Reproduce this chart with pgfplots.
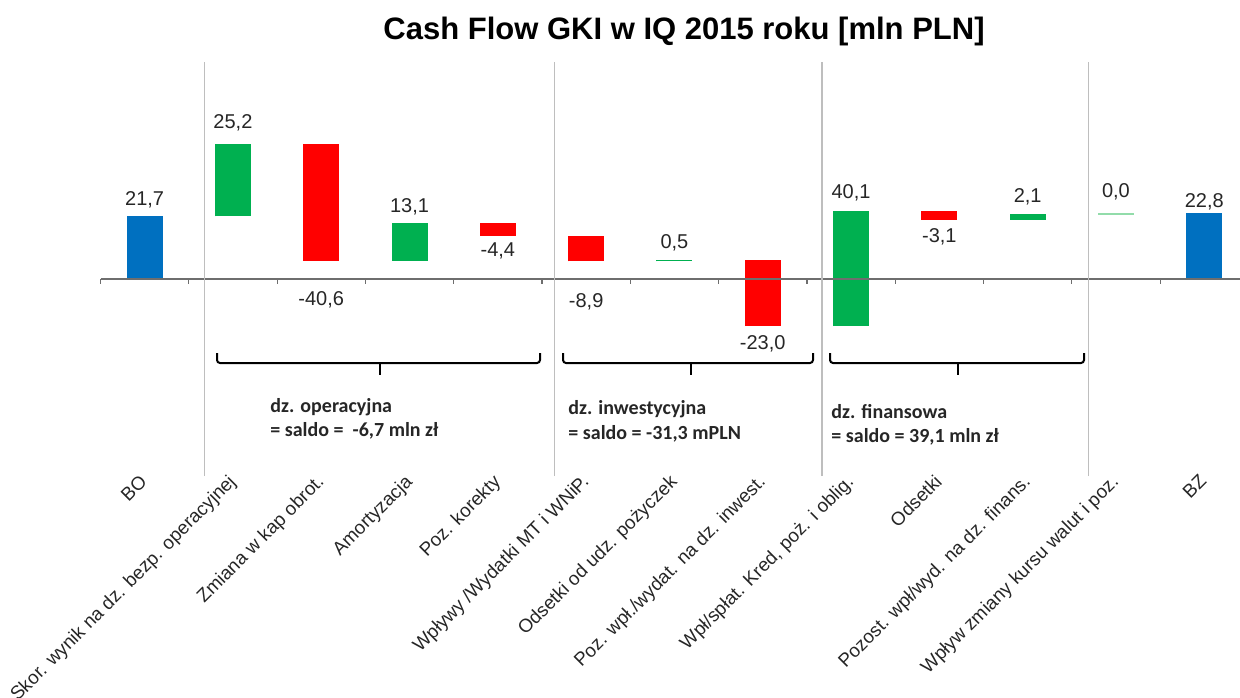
\documentclass[border=0pt]{standalone}
\usepackage{fontspec}
\setmainfont{Liberation Sans}
\newfontfamily\calibri{Carlito}
\usepackage{pgfplots}
\usepackage{pgfplotstable}
\pgfplotsset{compat=1.18}
\definecolor{cblue}{RGB}{0,112,192}
\definecolor{cgreen}{RGB}{0,176,80}
\definecolor{cred}{RGB}{255,0,0}
\definecolor{clight}{RGB}{146,220,170}
\definecolor{csep}{RGB}{190,190,190}
\definecolor{caxis}{RGB}{110,110,110}

\pgfplotstableread{
x lo hi
0 0 21.7
12 0 22.8
}\bluebars
\pgfplotstableread{
x lo hi
1 21.7 46.9
3 6.3 19.4
6 6.1 6.6
8 -16.4 23.7
10 20.6 22.7
}\greenbars
\pgfplotstableread{
x lo hi
2 6.3 46.9
4 15.0 19.4
5 6.1 15.0
7 -16.4 6.6
9 20.6 23.7
}\redbars
\pgfplotstableread{
x y label
0 27.4 21,7
1 54.2 25,2
2 -7.3 -40,6
3 25.0 13,1
4 9.7 -4,4
5 -8.0 -8,9
6 12.5 0,5
7 -22.6 -23,0
8 29.9 40,1
9 14.6 -3,1
10 28.5 2,1
11 30.2 0,0
12 26.7 22,8
}\labels

\begin{document}
\begin{tikzpicture}
\useasboundingbox (0,0) rectangle (620pt,348.5pt);
\begin{axis}[
  at={(50.25pt,110.5pt)}, anchor=south west,
  scale only axis, width=573.95pt, height=207pt,
  xmin=-0.5, xmax=12.5, ymin=-68.4, ymax=75.3,
  axis y line=none,
  axis x line*=middle,
  x axis line style={-, draw=caxis, line width=0.75pt},
  axis on top,
  xtick={0,...,12},
  xticklabels={BO, Skor. wynik na dz. bezp. operacyjnej, Zmiana w kap obrot., Amortyzacja, Poz. korekty, Wpływy /Wydatki MT i WNiP., Odsetki od udz. pożyczek, Poz. wpł./wydat. na dz. inwest., {Wpł/spłat. Kred, poż. i oblig.}, Odsetki, Pozost. wpł/wyd. na dz. finans., Wpływ zmiany kursu walut i poz., BZ},
  major tick length=0pt,
  minor xtick={-0.5,0.5,...,12.5},
  minor tick length=2.5pt,
  xtick align=outside,
  minor tick style={draw=caxis, line width=0.6pt},
  xticklabel style={yshift=-97pt, xshift=-3pt, rotate=45, anchor=north east, inner sep=0pt, font=\fontsize{9.4}{11}\selectfont, text=black!85},
  extra x ticks={0.68,4.64,7.67,10.69},
  extra x tick labels={},
  extra x tick style={grid=major, major grid style={draw=csep, line width=0.75pt}, major tick length=0pt},
  clip=false,
]
\addplot[draw=none, mark=none, forget plot, error bars/.cd, y dir=plus, y explicit, error mark=none, error bar style={line width=18pt, draw=cblue, solid}] table[x=x, y=lo, y error expr=\thisrow{hi}-\thisrow{lo}] {\bluebars};
\addplot[draw=none, mark=none, forget plot, error bars/.cd, y dir=plus, y explicit, error mark=none, error bar style={line width=18pt, draw=cgreen, solid}] table[x=x, y=lo, y error expr=\thisrow{hi}-\thisrow{lo}] {\greenbars};
\addplot[draw=none, mark=none, forget plot, error bars/.cd, y dir=plus, y explicit, error mark=none, error bar style={line width=18pt, draw=cred, solid}] table[x=x, y=lo, y error expr=\thisrow{hi}-\thisrow{lo}] {\redbars};
\addplot[draw=clight, line width=1pt, mark=none, forget plot] coordinates {(10.8,22.7) (11.2,22.7)};
\addplot[draw=none, mark=none, nodes near coords, point meta=explicit symbolic,
  every node near coord/.append style={anchor=center, inner sep=0pt, font=\fontsize{10}{12}\selectfont, text=black!85}]
  table[x=x, y=y, meta=label] {\labels};
\end{axis}
% braces
\draw[line width=1pt, rounded corners=1.5pt] (108.5pt,172pt) -- (108.5pt,167pt) -- (270pt,167pt) -- (270pt,172pt);
\draw[line width=1pt] (190pt,167pt) -- (190pt,161pt);
\draw[line width=1pt, rounded corners=1.5pt] (281.5pt,172pt) -- (281.5pt,167pt) -- (406.5pt,167pt) -- (406.5pt,172pt);
\draw[line width=1pt] (345.5pt,167pt) -- (345.5pt,161pt);
\draw[line width=1pt, rounded corners=1.5pt] (415pt,172pt) -- (415pt,167pt) -- (542pt,167pt) -- (542pt,172pt);
\draw[line width=1pt] (479pt,167pt) -- (479pt,161pt);
\begin{scope}[every node/.style={anchor=base west, inner sep=0pt, font=\calibri\bfseries\fontsize{10}{12}\selectfont, text=black!85}]
\node at (135pt,142.5pt) {dz. operacyjna};
\node at (135pt,130.5pt) {= saldo =\ \ -6,7 mln zł};
\node at (284pt,141.5pt) {dz. inwestycyjna};
\node at (284pt,129pt) {= saldo = -31,3 mPLN};
\node at (415.5pt,139.5pt) {dz. finansowa};
\node at (415.5pt,127.5pt) {= saldo = 39,1 mln zł};
\end{scope}
\node[anchor=base, inner sep=0pt, font=\bfseries\fontsize{15.5}{18}\selectfont] at (342pt,328.5pt) {Cash Flow GKI w IQ 2015 roku [mln PLN]};
\end{tikzpicture}
\end{document}
